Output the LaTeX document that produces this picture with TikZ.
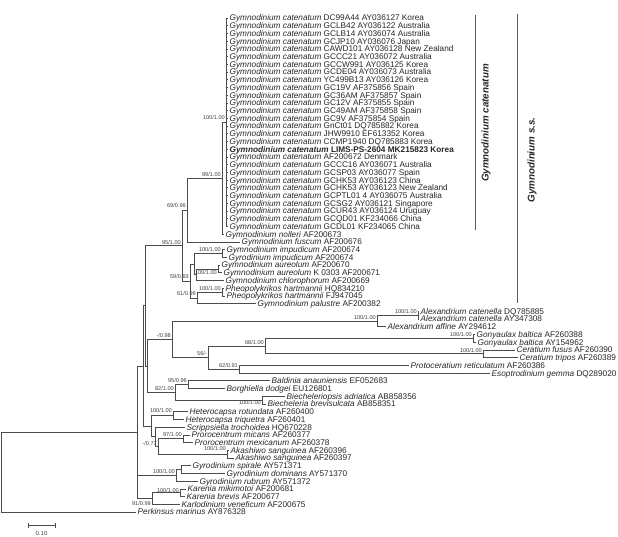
\documentclass[tikz,border=0pt]{standalone}
\usepackage{fontspec}
\setmainfont{Liberation Sans}
\newcommand\spn[1]{\textit{#1}}
\begin{document}
\begin{tikzpicture}[x=1pt,y=-1pt,
  br/.style={draw=black!70, line width=0.7pt},
  leaf/.style={anchor=base west, inner sep=0pt, font=\fontsize{8.25}{9}\selectfont, text=black!85, yshift=-2.9pt, xshift=1.5pt},
  bs/.style={anchor=base east, inner sep=0pt, font=\fontsize{5.6}{6}\selectfont, text=black!75, xshift=-1pt},
  cladelab/.style={rotate=90, inner sep=0pt, font=\fontsize{9.8}{11}\selectfont\bfseries\itshape, text=black!85},
  bar/.style={draw=black!65, line width=0.8pt}]
\useasboundingbox (0,0) rectangle (618,537);
% leaf tips
\foreach \i/\tx in {1/228,2/228,3/228,4/228,5/228,6/228,7/228,8/228,9/228,10/228,11/228,12/228,13/228,14/228,15/228,16/228,17/228,18/228,19/228,20/228,21/228,22/228,23/228,24/228,25/228,26/228,27/228,28/228,29/224,30/240,31/225,32/227,33/220,34/222,35/224,36/224,37/225,38/256,39/419,40/419,41/386,42/475,43/476,44/515,45/518,46/409,47/490,48/270,49/225,50/285,51/266,52/188,53/184,54/185,55/190,56/193,57/229,58/234,59/191,60/225,61/198,62/186,63/185,64/180,65/136}{
  \pgfmathsetmacro\yy{18+7.72*(\i-1)}
  \coordinate (t\i) at (\tx,\yy);
}
% internal nodes
\foreach \n/\x/\y in {C/226/122.2,N99/222/178.2,N69/187/210,I/222/253.5,A/218/268.9,Q/196/274.7,P/194/264.1,Ph/222/292.1,N61/197/297.9,N59/190/281,N95/182/245.5,Acat/418/315.2,Alex/377/321,Gon/473/338.4,Cer/483/353.8,N68/265/346.1,N62/239/369.3,N56/208/357.7,N098/172/339.3,N9596/188/384.7,Bie/262/400.1,N82/175/392.4,W/147/365.9,V/145/305.7,Het/173/415.6,Pro/183/438.7,Aka/227/454.2,N077/158/446.5,Y/155/436.8,X/151/426.2,U/143/366,SD/181/469.6,G/176/475.4,Kar/180/492.8,KK/152/498.6,N0/137/432.3,R/1/472.2}{
  \coordinate (\n) at (\x,\y);
}
% clade verticals and stems
\foreach \n/\p/\f/\l in {C/N99/t1/t28,N99/N69/C/t29,N69/N95/N99/t30,I/P/t31/t32,A/Q/t33/t34,Q/P/A/t35,P/N59/I/Q,Ph/N61/t36/t37,N61/N59/Ph/t38,N59/N95/P/N61,N95/V/N69/N59,Acat/Alex/t39/t40,Alex/N098/Acat/t41,Gon/N68/t42/t43,Cer/N68/t44/t45,N68/N56/Gon/Cer,N62/N56/t46/t47,N56/N098/N68/N62,N098/W/Alex/N56,N9596/N82/t48/t49,Bie/N82/t50/t51,N82/W/N9596/Bie,W/V/N098/N82,V/U/N95/W,Het/X/t52/t53,Pro/N077/t55/t56,Aka/N077/t57/t58,N077/Y/Pro/Aka,Y/X/t54/N077,X/U/Het/Y,U/N0/V/X,SD/G/t59/t60,G/N0/SD/t61,Kar/KK/t62/t63,KK/N0/Kar/t64,N0/R/U/KK}{
  \draw[br] (\n |- \f) -- (\n |- \l);
  \draw[br] (\p |- \n) -- (\n);
}
\draw[br] (R |- N0) -- (R |- t65);
% leaves
\foreach \i/\p/\txt in {
1/C/{\spn{Gymnodinium catenatum} DC99A44 AY036127 Korea},
2/C/{\spn{Gymnodinium catenatum} GCLB42 AY036122 Australia},
3/C/{\spn{Gymnodinium catenatum} GCLB14 AY036074 Australia},
4/C/{\spn{Gymnodinium catenatum} GCJP10 AY036076 Japan},
5/C/{\spn{Gymnodinium catenatum} CAWD101 AY036128 New Zealand},
6/C/{\spn{Gymnodinium catenatum} GCCC21 AY036072 Australia},
7/C/{\spn{Gymnodinium catenatum} GCCW991 AY036125 Korea},
8/C/{\spn{Gymnodinium catenatum} GCDE04 AY036073 Australia},
9/C/{\spn{Gymnodinium catenatum} YC499B13 AY036126 Korea},
10/C/{\spn{Gymnodinium catenatum} GC19V AF375856 Spain},
11/C/{\spn{Gymnodinium catenatum} GC36AM AF375857 Spain},
12/C/{\spn{Gymnodinium catenatum} GC12V AF375855 Spain},
13/C/{\spn{Gymnodinium catenatum} GC49AM AF375858 Spain},
14/C/{\spn{Gymnodinium catenatum} GC9V AF375854 Spain},
15/C/{\spn{Gymnodinium catenatum} GnCt01 DQ785882 Korea},
16/C/{\spn{Gymnodinium catenatum} JHW9910 EF613352 Korea},
17/C/{\spn{Gymnodinium catenatum} CCMP1940 DQ785883 Korea},
18/C/{\bfseries\spn{Gymnodinium catenatum} LIMS-PS-2604 MK215823 Korea},
19/C/{\spn{Gymnodinium catenatum} AF200672 Denmark},
20/C/{\spn{Gymnodinium catenatum} GCCC16 AY036071 Australia},
21/C/{\spn{Gymnodinium catenatum} GCSP03 AY036077 Spain},
22/C/{\spn{Gymnodinium catenatum} GCHK53 AY036123 China},
23/C/{\spn{Gymnodinium catenatum} GCHK53 AY036123 New Zealand},
24/C/{\spn{Gymnodinium catenatum} GCPTL01 4 AY036075 Australia},
25/C/{\spn{Gymnodinium catenatum} GCSG2 AY036121 Singapore},
26/C/{\spn{Gymnodinium catenatum} GCUR43 AY036124 Uruguay},
27/C/{\spn{Gymnodinium catenatum} GCQD01 KF234066 China},
28/C/{\spn{Gymnodinium catenatum} GCDL01 KF234065 China},
29/N99/{\spn{Gymnodinium nolleri} AF200673},
30/N69/{\spn{Gymnodinium fuscum} AF200676},
31/I/{\spn{Gymnodinium impudicum} AF200674},
32/I/{\spn{Gyrodinium impudicum} AF200674},
33/A/{\spn{Gymnodinium aureolum} AF200670},
34/A/{\spn{Gymnodinium aureolum} K 0303 AF200671},
35/Q/{\spn{Gymnodinium chlorophorum} AF200669},
36/Ph/{\spn{Pheopolykrikos hartmannii} HQ834210},
37/Ph/{\spn{Pheopolykrikos hartmannii} FJ947045},
38/N61/{\spn{Gymnodinium palustre} AF200382},
39/Acat/{\spn{Alexandrium catenella} DQ785885},
40/Acat/{\spn{Alexandrium catenella} AY347308},
41/Alex/{\spn{Alexandrium affine} AY294612},
42/Gon/{\spn{Gonyaulax baltica} AF260388},
43/Gon/{\spn{Gonyaulax baltica} AY154962},
44/Cer/{\spn{Ceratium fusus} AF260390},
45/Cer/{\spn{Ceratium tripos} AF260389},
46/N62/{\spn{Protoceratium reticulatum} AF260386},
47/N62/{\spn{Esoptrodinium gemma} DQ289020},
48/N9596/{\spn{Baldinia anauniensis} EF052683},
49/N9596/{\spn{Borghiella dodgei} EU126801},
50/Bie/{\spn{Biecheleriopsis adriatica} AB858356},
51/Bie/{\spn{Biecheleria brevisulcata} AB858351},
52/Het/{\spn{Heterocapsa rotundata} AF260400},
53/Het/{\spn{Heterocapsa triquetra} AF260401},
54/Y/{\spn{Scrippsiella trochoidea} HQ670228},
55/Pro/{\spn{Prorocentrum micans} AF260377},
56/Pro/{\spn{Prorocentrum mexicanum} AF260378},
57/Aka/{\spn{Akashiwo sanguinea} AF260396},
58/Aka/{\spn{Akashiwo sanguinea} AF260397},
59/SD/{\spn{Gyrodinium spirale} AY571371},
60/SD/{\spn{Gyrodinium dominans} AY571370},
61/G/{\spn{Gyrodinium rubrum} AY571372},
62/Kar/{\spn{Karenia mikimotoi} AF200681},
63/Kar/{\spn{Karenia brevis} AF200677},
64/KK/{\spn{Karlodinium veneficum} AF200675},
65/R/{\spn{Perkinsus marinus} AY876328}}{
  \draw[br] (\p |- t\i) -- (t\i);
  \node[leaf] (L\i) at (t\i) {\txt};
}
% support values (last field: vertical shift in pt, positive = up)
\foreach \n/\v/\dy in {C/{100/1.00}/2.5,N99/{99/1.00}/2,N69/{69/0.96}/2,N95/{95/1.00}/1,I/{100/1.00}/1.5,A/{100/1.00}/-6,N59/{59/0.93}/2,Ph/{100/1.00}/2,N61/{61/0.99}/2,Acat/{100/1.00}/2,Alex/{100/1.00}/2,N098/{-/0.98}/2,Gon/{100/1.00}/2,N68/{68/1.00}/2,Cer/{100/1.00}/1,N56/{56/-}/2.5,N62/{62/0.91}/2,N9596/{95/0.96}/2,N82/{82/1.00}/1.5,Bie/{100/1.00}/-4,Het/{100/1.00}/3.5,Pro/{97/1.00}/2.5,Aka/{100/1.00}/3.5,N077/{-/0.77}/1.5,G/{100/1.00}/1.5,Kar/{100/1.00}/0,KK/{91/0.99}/-6.5}{
  \node[bs, yshift=\dy pt] (b\n) at (\n) {\v};
}
% clade bars
\coordinate (ca) at (475,15); \coordinate (cb) at (475,230);
\coordinate (sa) at (517,14); \coordinate (sb) at (517,303);
\draw[bar] (ca) -- (cb);
\draw[bar] (sa) -- (sb);
\node[cladelab] (cl1) at (486,123) {Gymnodinium catenatum};
\node[cladelab] (cl2) at (532,160) {Gymnodinium s.s.};
% scale bar
\coordinate (s1) at (28,525); \coordinate (s2) at (55,525);
\draw[br] (s1) -- (s2);
\draw[br] ([yshift=2.5pt]s1) -- ([yshift=-2.5pt]s1);
\draw[br] ([yshift=2.5pt]s2) -- ([yshift=-2.5pt]s2);
\node[inner sep=0pt, font=\fontsize{6}{7}\selectfont, text=black!75] (sl) at (41.5,533) {0.10};
\end{tikzpicture}
\end{document}
